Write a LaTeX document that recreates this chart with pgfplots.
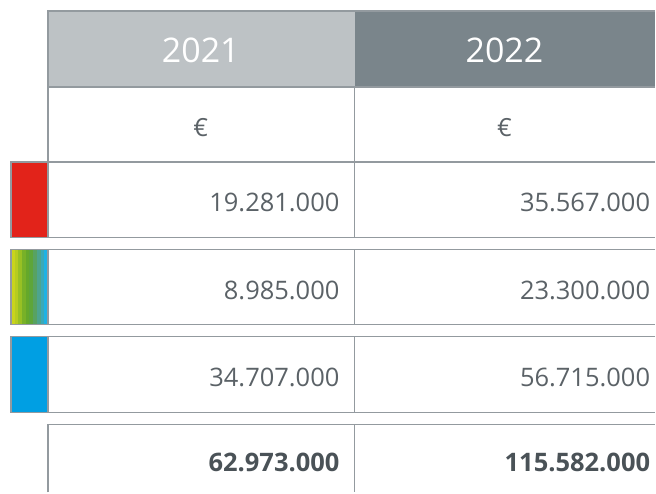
\documentclass[border=0pt]{standalone}
\usepackage{pgfplots}
\usepackage{pgfplotstable}
\pgfplotsset{compat=1.18}
\usepackage{fontspec}
\setmainfont{Open Sans}
\definecolor{hdrlight}{HTML}{BDC2C5}
\definecolor{hdrdark}{HTML}{7A858B}
\definecolor{rule}{HTML}{939A9F}
\definecolor{txt}{HTML}{5B6267}
\definecolor{txtbold}{HTML}{4A5257}
\definecolor{swred}{HTML}{E2231A}
\definecolor{swblue}{HTML}{009FE3}
% gradient swatch, left to right
\definecolor{g0}{HTML}{C9D41C}
\definecolor{g1}{HTML}{B6CC20}
\definecolor{g2}{HTML}{98C024}
\definecolor{g3}{HTML}{78B128}
\definecolor{g4}{HTML}{65A82A}
\definecolor{g5}{HTML}{5EA53A}
\definecolor{g6}{HTML}{58A262}
\definecolor{g7}{HTML}{4DA48E}
\definecolor{g8}{HTML}{3AA9B8}
\definecolor{g9}{HTML}{1EB2E4}

% cell values: x = right edge of text, y = baseline (pixel grid, y down)
\pgfplotstableread[col sep=comma]{
x,y,label
340,212,19.281.000
651,212,35.567.000
340,300,8.985.000
651,300,23.300.000
340,387,34.707.000
651,387,56.715.000
}\values
\pgfplotstableread[col sep=comma]{
x,y,label
340,472,62.973.000
651,472,115.582.000
}\totals

\tikzset{grid line/.style={rule,line width=1.5bp}}

\begin{document}
\begin{tikzpicture}
\begin{axis}[
  hide axis, scale only axis,
  width=656bp, height=493bp,
  xmin=0, xmax=656, ymin=0, ymax=493, y dir=reverse,
  clip=false,
]
\path (axis cs:0,0) rectangle (axis cs:656,493);
% header
\fill[hdrlight] (axis cs:48,11) rectangle (axis cs:355,87);
\fill[hdrdark] (axis cs:355,11) rectangle (axis cs:656,87);
\draw[grid line] (axis cs:48,87) -- (axis cs:48,11) -- (axis cs:656,11);
\node[white,anchor=base,font=\fontsize{34bp}{38bp}\selectfont] at (axis cs:201,63) {2021};
\node[white,anchor=base,font=\fontsize{34bp}{38bp}\selectfont] at (axis cs:505,63) {2022};
% currency row
\draw[grid line] (axis cs:48,87) -- (axis cs:656,87);
\draw[grid line] (axis cs:48,87) -- (axis cs:48,162);
\draw[grid line] (axis cs:355,87) -- (axis cs:355,162);
\node[txt,anchor=base,font=\fontsize{25bp}{30bp}\selectfont] at (axis cs:201,137) {€};
\node[txt,anchor=base,font=\fontsize{25bp}{30bp}\selectfont] at (axis cs:505,137) {€};
% colour swatches
\fill[swred] (axis cs:11,162) rectangle (axis cs:48,238);
\fill[g0] (axis cs:11.0,250) rectangle (axis cs:15.0,325);
\fill[g1] (axis cs:14.7,250) rectangle (axis cs:18.7,325);
\fill[g2] (axis cs:18.4,250) rectangle (axis cs:22.4,325);
\fill[g3] (axis cs:22.1,250) rectangle (axis cs:26.1,325);
\fill[g4] (axis cs:25.8,250) rectangle (axis cs:29.8,325);
\fill[g5] (axis cs:29.5,250) rectangle (axis cs:33.5,325);
\fill[g6] (axis cs:33.2,250) rectangle (axis cs:37.2,325);
\fill[g7] (axis cs:36.9,250) rectangle (axis cs:40.9,325);
\fill[g8] (axis cs:40.6,250) rectangle (axis cs:44.6,325);
\fill[g9] (axis cs:44.3,250) rectangle (axis cs:48.0,325);
\fill[swblue] (axis cs:11,337) rectangle (axis cs:48,413);
% value rows
\draw[grid line] (axis cs:656,162) -- (axis cs:11,162) -- (axis cs:11,238) -- (axis cs:656,238);
\draw[grid line] (axis cs:48,162) -- (axis cs:48,238);
\draw[grid line] (axis cs:355,162) -- (axis cs:355,238);
\draw[grid line] (axis cs:656,250) -- (axis cs:11,250) -- (axis cs:11,325) -- (axis cs:656,325);
\draw[grid line] (axis cs:48,250) -- (axis cs:48,325);
\draw[grid line] (axis cs:355,250) -- (axis cs:355,325);
\draw[grid line] (axis cs:656,337) -- (axis cs:11,337) -- (axis cs:11,413) -- (axis cs:656,413);
\draw[grid line] (axis cs:48,337) -- (axis cs:48,413);
\draw[grid line] (axis cs:355,337) -- (axis cs:355,413);
% total row
\draw[grid line] (axis cs:48,493) -- (axis cs:48,425) -- (axis cs:656,425);
\draw[grid line] (axis cs:355,425) -- (axis cs:355,493);
\addplot[draw=none, mark=none, nodes near coords, point meta=explicit symbolic,
  nodes near coords style={anchor=base east, inner sep=0pt, text=txt, font=\fontsize{25.5bp}{30bp}\selectfont}]
  table[x=x, y=y, meta=label] {\values};
\addplot[draw=none, mark=none, nodes near coords, point meta=explicit symbolic,
  nodes near coords style={anchor=base east, inner sep=0pt, text=txtbold, font=\fontsize{25.5bp}{30bp}\selectfont\bfseries}]
  table[x=x, y=y, meta=label] {\totals};
\end{axis}
\end{tikzpicture}
\end{document}
